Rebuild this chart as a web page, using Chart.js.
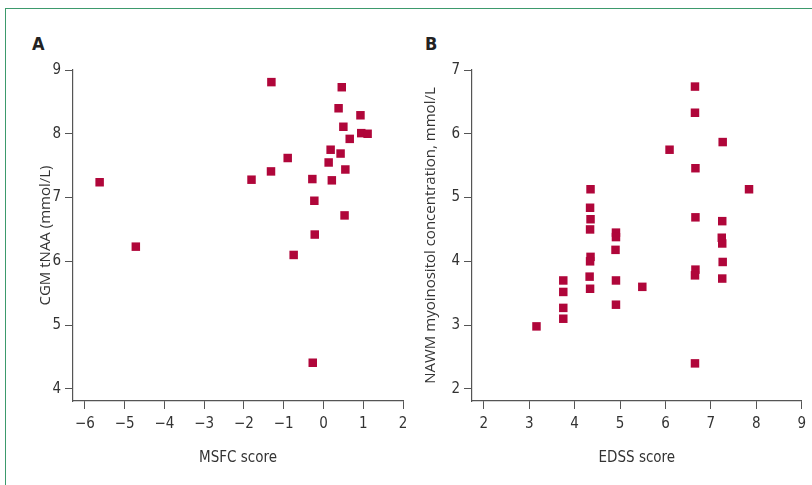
<!DOCTYPE html>
<html>
<head>
<meta charset="utf-8">
<script src="https://cdn.jsdelivr.net/npm/chart.js@4/dist/chart.umd.min.js"></script>
<style>
  body { margin: 0; background: #fff; width: 812px; height: 485px; overflow: hidden; position: relative; }
  #frame { position: absolute; left: 5px; top: 8px; width: 820px; height: 490px;
           border-top: 1.5px solid #3d9a6c; border-left: 1.5px solid #3d9a6c; }
  .panel { position: absolute; font-family: "Liberation Sans Narrow", "DejaVu Sans Condensed", sans-serif;
           font-weight: bold; font-size: 18px; color: #222; }
  canvas { position: absolute; top: 0; }
</style>
</head>
<body>
<div id="frame"></div>
<div class="panel" style="left:32px;top:33px;">A</div>
<div class="panel" style="left:425px;top:33px;">B</div>
<canvas id="chartA" width="420" height="485" style="left:0"></canvas>
<canvas id="chartB" width="392" height="485" style="left:420px"></canvas>
<script>
// panel A : MSFC score vs CGM tNAA
var msfcScore = [-1.31, 0.46, 0.38, 0.93, 0.50, 0.95, 1.11, 0.66, 0.18, 0.43, -0.90, 0.13,
                 -1.32, 0.55, -5.63, -1.81, -0.28, 0.21, -0.23, 0.53, -0.22, -4.72, -0.75, -0.27];
var cgmTnaa   = [8.81, 8.73, 8.40, 8.29, 8.11, 8.01, 8.00, 7.92, 7.75, 7.69, 7.62, 7.55,
                 7.41, 7.44, 7.24, 7.28, 7.29, 7.27, 6.95, 6.72, 6.42, 6.23, 6.10, 4.41];
var xTicksA = [-6, -5, -4, -3, -2, -1, 0, 1, 2];
var yTicksA = [4, 5, 6, 7, 8, 9];

// panel B : EDSS score vs NAWM myoinositol
var edssScore = [3.16, 3.75, 3.75, 3.75, 3.75,
                 4.35, 4.34, 4.35, 4.34, 4.35, 4.34, 4.33, 4.34,
                 4.91, 4.91, 4.90, 4.91, 4.91,
                 5.49, 6.09,
                 6.65, 6.65, 6.66, 6.66, 6.66, 6.65, 6.65,
                 7.26, 7.25, 7.24, 7.25, 7.26, 7.25,
                 7.84];
var nawmMyo   = [2.98, 3.70, 3.52, 3.27, 3.10,
                 5.13, 4.84, 4.66, 4.50, 4.07, 4.00, 3.76, 3.57,
                 4.45, 4.38, 4.18, 3.70, 3.32,
                 3.60, 5.75,
                 6.74, 6.33, 5.46, 4.69, 3.87, 3.78, 2.40,
                 5.87, 4.63, 4.37, 4.28, 3.99, 3.73,
                 5.13];
var xTicksB = [2, 3, 4, 5, 6, 7, 8, 9];
var yTicksB = [2, 3, 4, 5, 6, 7];

var FONT = '"Liberation Sans Narrow", "DejaVu Sans Condensed", sans-serif';
var YFONT = '"Open Sans", "Noto Sans", sans-serif';
var MARK = '#b0063a';
var AXIS = '#555';

function pts(xs, ys) {
	var out = [];
	for (var i = 0; i < xs.length; i++) out.push({x: xs[i], y: ys[i]});
	return out;
}

function minus(v) { return v < 0 ? '\u2212' + Math.abs(v) : '' + v; }

function makeChart(id, data, o) {
	var ctx = document.getElementById(id).getContext('2d');
	return new Chart(ctx, {
		type: 'scatter',
		data: {
			datasets: [{
				data: data,
				pointStyle: 'rect',
				pointRadius: 6,
				borderWidth: 0,
				backgroundColor: MARK,
				borderColor: MARK,
				clip: false
			}]
		},
		options: {
			responsive: false,
			devicePixelRatio: 1,
			animation: false,
			events: [],
			layout: {padding: {left: 0, top: 70, right: o.padRight, bottom: 0}},
			plugins: {legend: {display: false}, tooltip: {enabled: false}},
			scales: {
				x: {
					type: 'linear',
					min: o.xMin, max: o.xMax,
					afterFit: function (s) { s.height = 84; },
					afterBuildTicks: function (s) { s.ticks = o.xTicks.map(function (v) { return {value: v}; }); },
					grid: {drawOnChartArea: false, drawTicks: true, tickLength: 8, color: AXIS, lineWidth: 1},
					border: {color: AXIS, width: 1.2},
					ticks: {color: '#333', padding: 6, font: {family: FONT, size: 15}, callback: function (v) { return minus(v); }},
					title: {display: true, text: o.xTitle, color: '#333', font: {family: FONT, size: 15},
						padding: {top: 0, bottom: 18}}
				},
				y: {
					type: 'linear',
					min: o.yMin, max: o.yMax,
					afterFit: function (s) { s.width = o.yWidth; },
					afterBuildTicks: function (s) { s.ticks = o.yTicks.map(function (v) { return {value: v}; }); },
					grid: {drawOnChartArea: false, drawTicks: true, tickLength: 8, color: AXIS, lineWidth: 1},
					border: {color: AXIS, width: 1.2},
					ticks: {color: '#333', padding: 4, font: {family: FONT, size: 15}},
					title: {display: true, text: o.yTitle, color: '#333', font: {family: YFONT, size: 15},
						padding: {top: o.yTitlePad, bottom: 0}}
				}
			}
		}
	});
}

makeChart('chartA', pts(msfcScore, cgmTnaa), {
	xMin: -6.3, xMax: 2, yMin: 3.81, yMax: 9,
	xTicks: xTicksA, yTicks: yTicksA,
	xTitle: 'MSFC score', yTitle: 'CGM tNAA (mmol/L)',
	yWidth: 73, yTitlePad: 37, padRight: 17
});

makeChart('chartB', pts(edssScore, nawmMyo), {
	xMin: 1.74, xMax: 9, yMin: 1.81, yMax: 7,
	xTicks: xTicksB, yTicks: yTicksB,
	xTitle: 'EDSS score', yTitle: 'NAWM myoinositol concentration, mmol/L',
	yWidth: 52, yTitlePad: 2, padRight: 10
});
</script>
</body>
</html>
